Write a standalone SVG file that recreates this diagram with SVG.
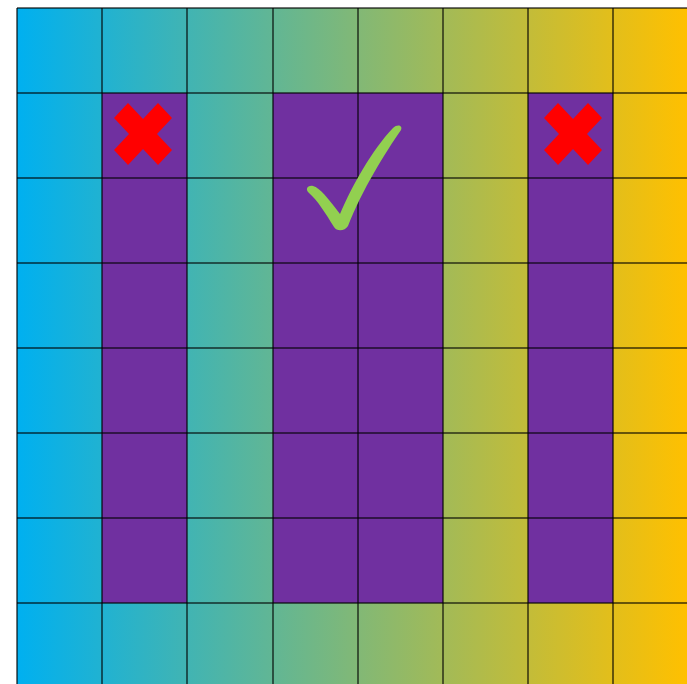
<svg xmlns="http://www.w3.org/2000/svg" width="687" height="684" viewBox="0 0 687 684">
<defs>
<linearGradient id="bg" gradientUnits="userSpaceOnUse" x1="17" y1="0" x2="687" y2="0">
<stop offset="0" stop-color="#00B0F0"/>
<stop offset="1" stop-color="#FFC000"/>
</linearGradient>
<style>
.purple{fill:#7030A0}
.grid{stroke:#000;stroke-opacity:0.75;stroke-width:1.5;fill:none}
.cross{fill:#FF0000}
.check{fill:#92D050}
</style>
</defs>
<rect width="687" height="684" fill="#fff"/>
<g id="background">
<rect x="17" y="8" width="670" height="676" fill="url(#bg)"/>
</g>
<g id="purple-columns">
<rect class="purple" x="102" y="93" width="85" height="510"/>
<rect class="purple" x="273" y="93" width="170" height="510"/>
<rect class="purple" x="528" y="93" width="85" height="510"/>
</g>
<g id="grid" class="grid">
<path d="M17 8V684M102 8V684M187 8V684M273 8V684M358 8V684M443 8V684M528 8V684M613 8V684"/>
<path d="M17 8H687M17 93H687M17 178H687M17 263H687M17 348H687M17 433H687M17 518H687M17 603H687"/>
</g>
<g id="cross-left">
<path class="cross" d="M114 118L128 103L143 119L158 103L172 118L157 134L172 150L158 165L143 149L128 165L114 150L129 134Z"/>
</g>
<g id="cross-right">
<path class="cross" d="M544 118L558 103L573 119L588 103L602 118L587 134L602 150L588 165L573 149L558 165L544 150L559 134Z"/>
</g>
<g id="checkmark">
<path class="check" d="M309 193C305 190 307 185 313 186C320 188 328 198 340 214C352 186 372 150 393 128C397 124 403 125 401 130C385 153 362 190 348 226C345 231 337 232 334 227C326 214 318 201 309 193Z"/>
</g>
</svg>
